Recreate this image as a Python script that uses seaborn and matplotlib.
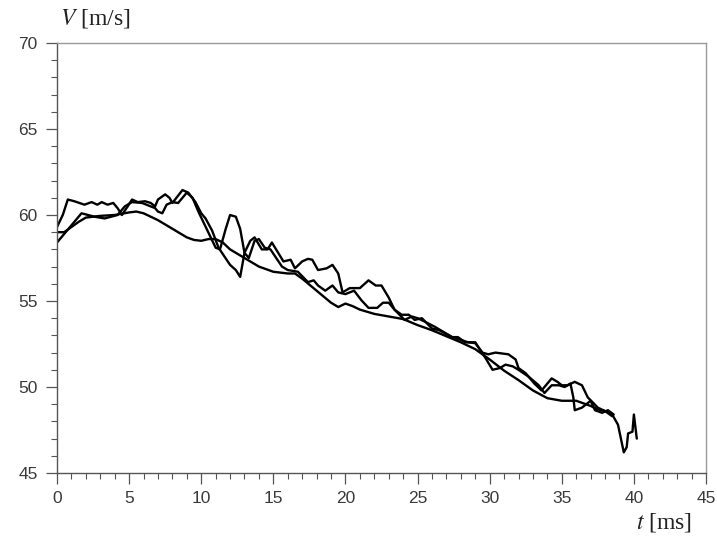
import numpy as np
import pandas as pd
import matplotlib
matplotlib.use("Agg")
import matplotlib.pyplot as plt
from matplotlib.ticker import MultipleLocator
import seaborn as sns

# --- data ---
t_a = [0, 0.5, 1, 1.5, 2, 3, 4, 5, 5.5, 6, 7, 8, 9, 9.5, 10, 10.5, 11, 11.5, 12, 13, 14, 15, 16,
       16.5, 17, 18, 19, 19.5, 20, 20.5, 21, 22, 23, 24, 25, 26, 27, 28, 29, 30, 31, 32, 33, 34,
       35, 36, 37, 37.5, 38, 38.5]
v_a = [59.0, 59.0, 59.3, 59.6, 59.85, 59.95, 60.0, 60.15, 60.2, 60.1, 59.7, 59.2, 58.7, 58.55,
       58.5, 58.6, 58.6, 58.4, 58.0, 57.5, 57.0, 56.7, 56.6, 56.6, 56.3, 55.6, 54.9, 54.65, 54.85,
       54.7, 54.5, 54.25, 54.1, 53.95, 53.6, 53.3, 52.95, 52.6, 52.2, 51.6, 50.95, 50.4, 49.8,
       49.35, 49.2, 49.2, 48.9, 48.7, 48.6, 48.3]

t_b = [0, 0.4, 0.75, 1.2, 1.9, 2.4, 2.8, 3.1, 3.5, 3.9, 4.2, 4.5, 4.9, 5.2, 5.6, 6.1, 6.5, 6.8,
       7.0, 7.5, 7.8, 8.0, 8.7, 9.1, 9.6, 10.0, 10.3, 10.75, 11.2, 11.6, 12.0, 12.4, 12.7, 13.0,
       13.4, 13.7, 14.2, 14.6, 14.9, 15.3, 15.7, 16.2, 16.5, 17.0, 17.4, 17.7, 18.1, 18.7, 19.1,
       19.5, 19.8, 20.3, 21.0, 21.6, 22.1, 22.5, 23.0, 23.4, 24.1, 24.6, 25.0, 25.5, 26.2, 27.4,
       28.5, 29.0, 29.5, 29.9, 30.4, 31.3, 31.8, 32.0, 32.5, 33.1, 33.6, 34.0, 34.3, 34.7, 35.0,
       35.4, 35.9, 36.4, 36.8, 37.5, 38.0, 38.5, 38.9, 39.1, 39.3, 39.5, 39.6, 39.9, 40.0, 40.1,
       40.2]
v_b = [59.3, 60.0, 60.9, 60.8, 60.6, 60.75, 60.6, 60.75, 60.6, 60.7, 60.4, 60.0, 60.5, 60.9,
       60.75, 60.8, 60.7, 60.5, 60.9, 61.2, 61.0, 60.7, 61.45, 61.3, 60.75, 60.1, 59.8, 59.1,
       58.1, 57.6, 57.1, 56.8, 56.4, 57.8, 58.5, 58.7, 58.0, 58.0, 58.4, 57.85, 57.3, 57.4, 56.9,
       57.3, 57.45, 57.4, 56.8, 56.9, 57.1, 56.6, 55.5, 55.75, 55.75, 56.2, 55.9, 55.9, 55.2,
       54.5, 53.9, 54.1, 54.0, 53.8, 53.5, 52.9, 52.6, 52.55, 52.0, 51.9, 52.0, 51.9, 51.6, 51.1,
       50.8, 50.2, 49.8, 50.2, 50.5, 50.3, 50.1, 50.1, 50.3, 50.1, 49.4, 48.8, 48.6, 48.4, 47.8,
       47.0, 46.2, 46.5, 47.3, 47.4, 48.4, 47.7, 47.0]

t_c = [0, 0.5, 1.0, 1.7, 2.6, 3.3, 4.2, 4.7, 5.2, 5.9, 6.8, 7.0, 7.3, 7.6, 8.0, 8.4, 9.0, 9.4,
       9.8, 10.2, 10.6, 11.0, 11.3, 11.7, 12.0, 12.4, 12.7, 13.0, 13.3, 13.7, 14.0, 14.4, 14.8,
       15.2, 15.6, 16.0, 16.7, 17.4, 17.8, 18.1, 18.6, 19.1, 19.5, 20.0, 20.6, 21.1, 21.6, 22.2,
       22.6, 23.0, 23.4, 23.9, 24.4, 24.8, 25.3, 26.0, 26.5, 27.4, 27.8, 28.3, 29.0, 29.7, 30.2,
       30.7, 31.1, 31.6, 32.0, 32.7, 33.4, 33.8, 34.3, 34.8, 35.2, 35.6, 35.8, 35.9, 36.4, 37.0,
       37.3, 37.8, 38.2, 38.6]
v_c = [58.4, 58.9, 59.4, 60.1, 59.9, 59.8, 60.0, 60.5, 60.75, 60.7, 60.4, 60.2, 60.1, 60.6,
       60.75, 60.7, 61.3, 61.0, 60.2, 59.5, 58.8, 58.1, 58.0, 59.2, 60.0, 59.9, 59.2, 57.8, 57.5,
       58.5, 58.6, 58.1, 58.0, 57.5, 57.0, 56.8, 56.7, 56.1, 56.2, 55.9, 55.6, 55.9, 55.5, 55.4,
       55.6, 55.05, 54.6, 54.6, 54.9, 54.9, 54.5, 54.2, 54.2, 53.9, 54.0, 53.4, 53.3, 52.9, 52.9,
       52.6, 52.6, 51.7, 51.0, 51.1, 51.3, 51.2, 51.0, 50.6, 50.1, 49.65, 50.1, 50.1, 50.0, 50.2,
       49.4, 48.65, 48.8, 49.2, 48.65, 48.5, 48.65, 48.4]

x_ticks = [0, 5, 10, 15, 20, 25, 30, 35, 40, 45]
y_ticks = [45, 50, 55, 60, 65, 70]

df = pd.concat([
    pd.DataFrame({"t": t_a, "V": v_a, "run": "a"}),
    pd.DataFrame({"t": t_b, "V": v_b, "run": "b"}),
    pd.DataFrame({"t": t_c, "V": v_c, "run": "c"}),
], ignore_index=True)

sns.set_style("white")
plt.rcParams["font.family"] = ["Liberation Sans", "DejaVu Sans"]
plt.rcParams["mathtext.fontset"] = "stix"

fig = plt.figure(figsize=(7.17, 5.42), dpi=100)
ax = fig.add_axes([57 / 717, 1 - 473 / 542, (706 - 57) / 717, (473 - 43) / 542])

sns.lineplot(data=df, x="t", y="V", hue="run", units="run", estimator=None, sort=False,
             palette=["black", "black", "black"], linewidth=1.7, legend=False, ax=ax)
for ln in ax.lines:
    ln.set_solid_joinstyle("round")

ax.set_xlim(0, 45)
ax.set_ylim(45, 70)
ax.set_xticks(x_ticks)
ax.set_yticks(y_ticks)
ax.set_xticklabels([str(v) for v in x_ticks])
ax.set_yticklabels([str(v) for v in y_ticks])
ax.xaxis.set_minor_locator(MultipleLocator(1))
ax.yaxis.set_minor_locator(MultipleLocator(1))
ax.set_xlabel("")
ax.set_ylabel("")

for side in ["left", "bottom"]:
    ax.spines[side].set_color("#555555")
    ax.spines[side].set_linewidth(1.0)
for side in ["top", "right"]:
    ax.spines[side].set_color("#9a9a9a")
    ax.spines[side].set_linewidth(1.0)

ax.tick_params(axis="both", which="major", direction="out", length=8, width=0.9,
               color="#555555", labelsize=12.5, labelcolor="#3a3a3a",
               bottom=True, left=True, top=False, right=False)
ax.tick_params(axis="x", which="major", pad=5)
ax.tick_params(axis="y", which="major", pad=6)
ax.tick_params(axis="both", which="minor", direction="out", length=4, width=0.8,
               color="#555555", bottom=True, left=True, top=False, right=False)

fig.text(60 / 717, 1 - 19 / 542, r"$V$ [m/s]", family="Liberation Serif", fontsize=17,
         color="#222222", ha="left", va="center")
fig.text(692 / 717, 1 - 523 / 542, r"$t$ [ms]", family="Liberation Serif", fontsize=17,
         color="#222222", ha="right", va="center")

fig.savefig("out.png", dpi=100)
